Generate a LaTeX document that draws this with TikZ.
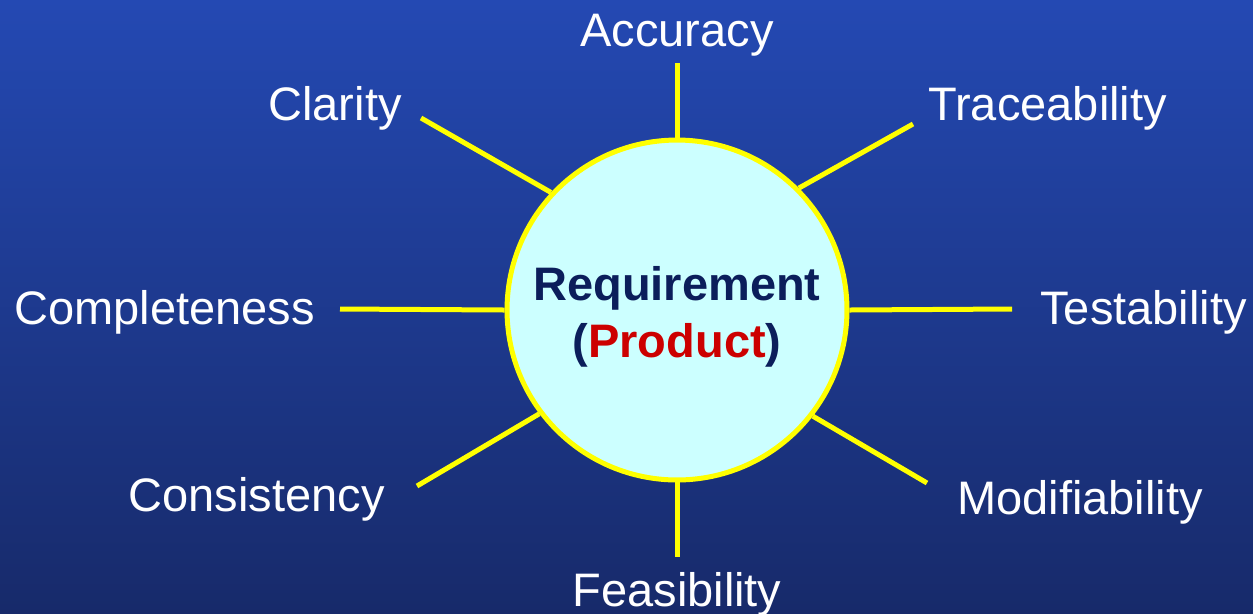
\documentclass[tikz,border=0pt]{standalone}
\usepackage{fontspec}
\setmainfont{Liberation Sans}
\usetikzlibrary{positioning}

\definecolor{bgtop}{HTML}{2449B3}
\definecolor{bgbot}{HTML}{172A6A}
\definecolor{hubfill}{HTML}{CCFFFF}
\definecolor{spoke}{HTML}{FFFF00}
\definecolor{hubtext}{HTML}{0B1E5B}
\definecolor{prodred}{HTML}{CC0000}

\begin{document}
\begin{tikzpicture}[x=0.02cm,y=-0.02cm,
	quality/.style={text=white,inner sep=0pt,font=\fontsize{26.75}{32}\selectfont},
	ray/.style={draw=spoke,line width=0.1cm},
]

%Background
\fill[top color=bgtop,bottom color=bgbot] (0,0) rectangle (1253,613);
\useasboundingbox (0,0) rectangle (1253,613);

%Hub
\node [draw=spoke,
	fill=hubfill,
	circle,
	line width=0.1cm,
	minimum size=6.8cm,
	align=center,
	text=hubtext,
	font=\fontsize{26.75}{32.4}\selectfont\bfseries,
]  (req)at (677,310) {\rule{0pt}{27pt}Requirement\\(\textcolor{prodred}{Product})};

%Labels
\node [quality,anchor=base]  (acc)at (677,46) {Accuracy};
\node [quality,anchor=base east]  (cla)at (402,120) {Clarity};
\node [quality,anchor=base west]  (tra)at (928,120) {Traceability};
\node [quality,anchor=base east]  (com)at (315,324) {Completeness};
\node [quality,anchor=base west]  (tes)at (1040,324) {Testability};
\node [quality,anchor=base east]  (con)at (385,511) {Consistency};
\node [quality,anchor=base west]  (mod)at (957,514) {Modifiability};
\node [quality,anchor=base]  (fea)at (677,606) {Feasibility};

%Spoke ends
\coordinate (accE) at (677,63);
\coordinate (claE) at (421,118);
\coordinate (traE) at (913,124);
\coordinate (comE) at (340,309);
\coordinate (tesE) at (1012,309);
\coordinate (conE) at (417,486);
\coordinate (modE) at (927,483);
\coordinate (feaE) at (677,557);

%Spokes
\draw[ray] (req.north) -- (accE);
\draw[ray] (req.137) -- (claE);
\draw[ray] (req.45) -- (traE);
\draw[ray] (req.west) -- (comE);
\draw[ray] (req.east) -- (tesE);
\draw[ray] (req.217) -- (conE);
\draw[ray] (req.-38) -- (modE);
\draw[ray] (req.south) -- (feaE);

\end{tikzpicture}
\end{document}
